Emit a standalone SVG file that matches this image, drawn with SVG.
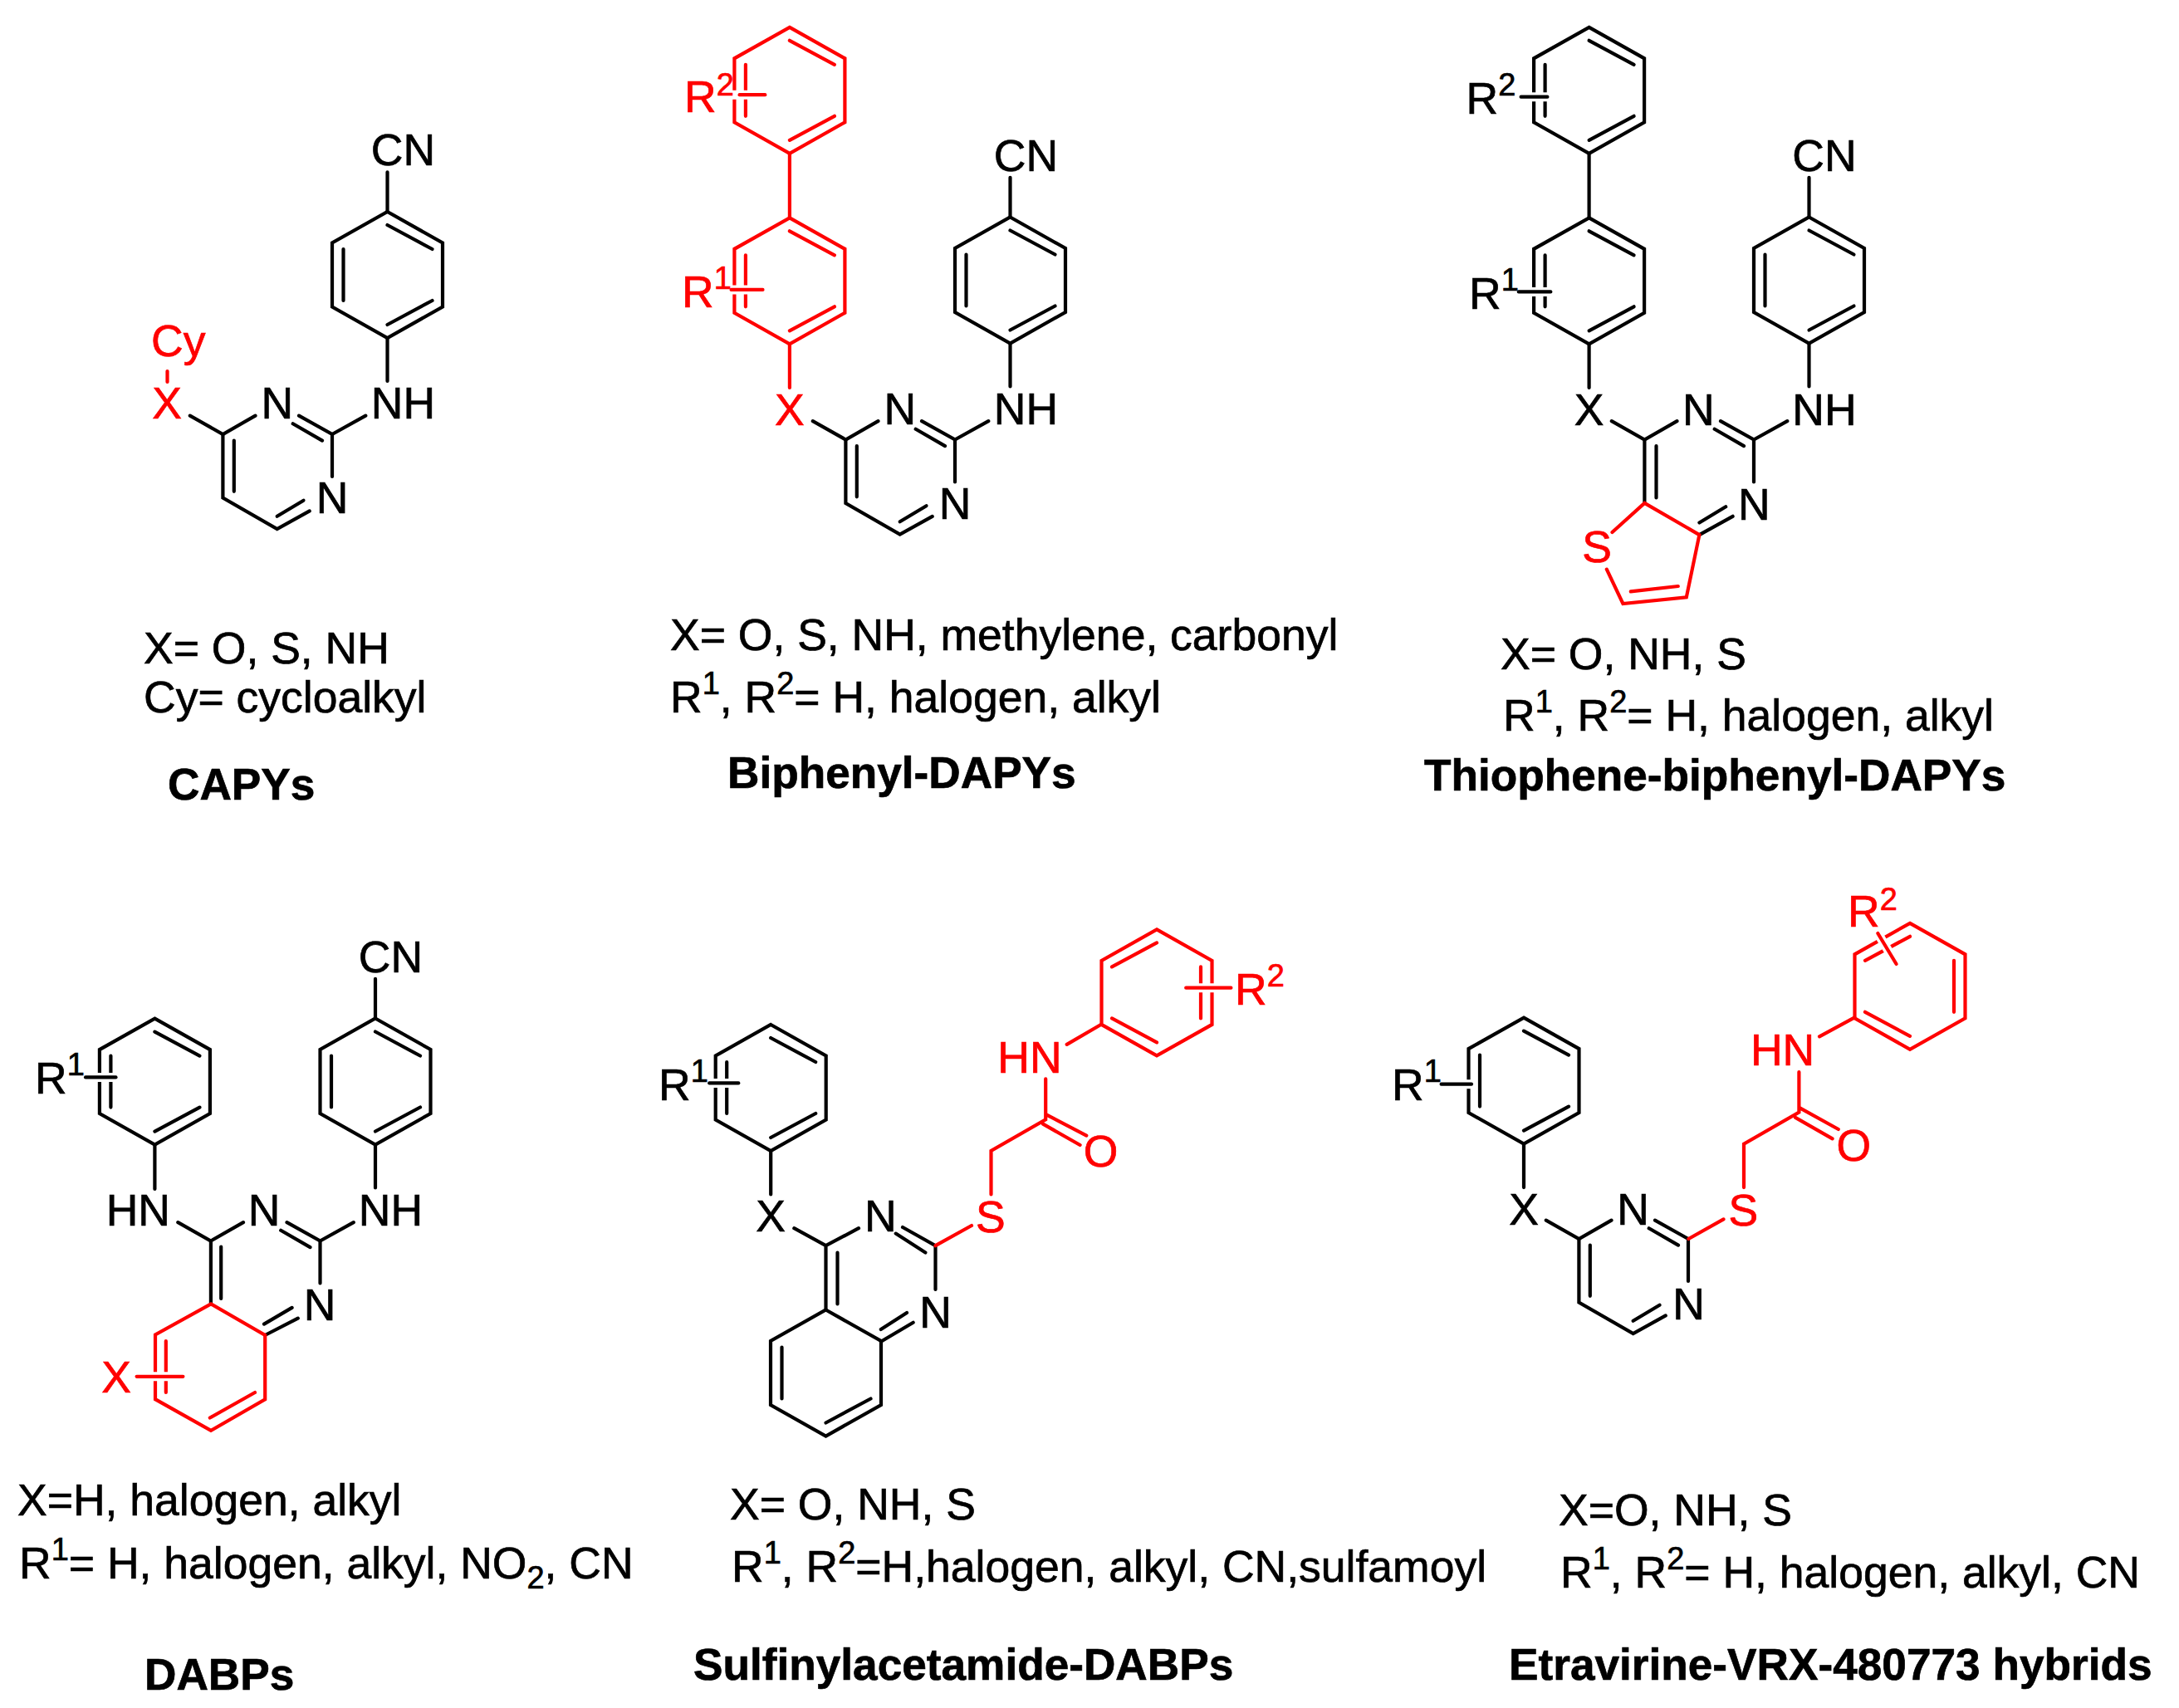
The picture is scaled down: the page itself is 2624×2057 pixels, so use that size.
<svg xmlns="http://www.w3.org/2000/svg" xmlns:xlink="http://www.w3.org/1999/xlink" width="2624" height="2057" viewBox="0 0 2624 2057">
<style>
text{font-family:"Liberation Sans",Arial,sans-serif;font-size:53.500px;fill:#000;stroke:#000;stroke-width:.7}
text.r{fill:#f00;stroke:#f00}
.c{text-anchor:middle}
text.b{font-weight:bold;font-size:53.200px}
.s{font-size:38px}
path,line{fill:none;stroke-width:4.200;stroke-linecap:round;stroke-linejoin:miter}
.k{stroke:#000}
.red{stroke:#f00}
line.h{stroke:#fff;stroke-width:11;stroke-linecap:butt}
</style>
<defs>
<path id="ringA" d="M0,-76L66.500,-38.500V38.500L0,76L-66.500,38.500V-38.500ZM0,-60L54,-31M0,60L54,31M-53,-31V31"/>
<path id="ringB" d="M0,-76L66.500,-38.500V38.500L0,76L-66.500,38.500V-38.500ZM0,60L54,31M-53,-31V31"/>
<path id="ringC" d="M0,-76L66.500,-38.500V38.500L0,76L-66.500,38.500V-38.500ZM0,-60L-54,-31M0,60L-54,31M53,-31V31"/>
<path id="pyrTop" d="M228.800,500.600L268.400,523L307.500,500.600M360,500.600L400,523V574M352.700,510.200L388,530.600"/>
<path id="pyrBot" d="M268.400,523V599.500L333.700,637.100L372.800,615.400M281.800,530.600V591.800M333.700,621.800L365.500,602.700"/>
<path id="anil" d="M400,523L440.300,500.600M466.500,407V459M466.500,255V207.300"/>
</defs>
<rect width="2624" height="2057" fill="#fff"/>

<g id="capys">
<g class="k">
<use href="#ringA" x="466.500" y="331"/>
<use href="#anil"/><use href="#pyrTop"/><use href="#pyrBot"/>
</g>
<line class="red" x1="201.500" y1="447" x2="201.500" y2="460"/>
<text class="c" x="485.500" y="199">CN</text>
<text class="c" x="485.500" y="504">NH</text>
<text class="c" x="333.700" y="504">N</text>
<text class="c" x="400" y="618">N</text>
<text class="c r" x="201" y="504">X</text>
<text class="r" x="182" y="429">Cy</text>
<text x="173" y="799">X= O, S, NH</text>
<text x="173" y="858">Cy= cycloalkyl</text>
<text class="b" x="202" y="963">CAPYs</text>
</g>

<g id="biphenyl-dapys">
<g class="k" transform="translate(750 6.500)">
<use href="#ringA" x="466.500" y="331"/>
<use href="#anil"/><use href="#pyrTop"/><use href="#pyrBot"/>
</g>
<g class="red">
<use href="#ringA" x="950.900" y="108.800"/>
<use href="#ringA" x="950.900" y="338.300"/>
<line x1="950.900" y1="185" x2="950.900" y2="262"/>
<line x1="950.900" y1="414.500" x2="950.900" y2="467"/>
<line class="h" x1="876" y1="114.200" x2="921.300" y2="114.200"/>
<line x1="890.600" y1="114.200" x2="921.300" y2="114.200"/>
<line class="h" x1="880.600" y1="348.900" x2="918.500" y2="348.900"/>
<line x1="880.600" y1="348.900" x2="918.500" y2="348.900"/>
</g>
<text class="r" x="824" y="135">R<tspan class="s" dy="-20">2</tspan></text>
<text class="r" x="821" y="370">R<tspan class="s" dy="-22">1</tspan></text>
<text class="c r" x="950.900" y="512">X</text>
<text class="c" x="1235.500" y="206">CN</text>
<text class="c" x="1235.500" y="510.500">NH</text>
<text class="c" x="1083.700" y="510.500">N</text>
<text class="c" x="1150" y="625">N</text>
<text x="807" y="783">X= O, S, NH, methylene, carbonyl</text>
<text x="807" y="858">R<tspan class="s" dy="-22">1</tspan><tspan dy="22">, R</tspan><tspan class="s" dy="-22">2</tspan><tspan dy="22">= H, halogen, alkyl</tspan></text>
<text class="b" x="876" y="949">Biphenyl-DAPYs</text>
</g>

<g id="thiophene-biphenyl-dapys">
<g class="k" transform="translate(1712 6.500)">
<use href="#ringA" x="466.500" y="331"/>
<use href="#anil"/><use href="#pyrTop"/>
</g>
<g class="k">
<use href="#ringA" x="1913.600" y="108.800"/>
<use href="#ringA" x="1913.600" y="338.300"/>
<path d="M1913.600,185V262M1913.600,414.500V467M1980.400,529.500V605.900M1994.500,537V599.500M2046.400,644.100L2086.600,621.800M2046.400,629.500L2078.200,610.300"/>
<line class="h" x1="1831.600" y1="116.700" x2="1863.400" y2="116.700"/>
<line x1="1831.600" y1="116.700" x2="1863.400" y2="116.700"/>
<line class="h" x1="1828.800" y1="351.400" x2="1867.300" y2="351.400"/>
<line x1="1828.800" y1="351.400" x2="1867.300" y2="351.400"/>
</g>
<path class="red" d="M1941.500,641L1980.400,605.900L2046.400,644.100L2030.800,719.400L1954.400,727L1934.800,685.600M1963.800,712.400L2020.800,706"/>
<text x="1765.500" y="136.500">R<tspan class="s" dy="-22">2</tspan></text>
<text x="1769" y="372">R<tspan class="s" dy="-22">1</tspan></text>
<text class="c" x="1913.600" y="512">X</text>
<text class="c" x="2045.300" y="512">N</text>
<text class="c" x="2197" y="512">NH</text>
<text class="c" x="2112.300" y="626">N</text>
<text class="c" x="2197" y="206">CN</text>
<text class="c r" x="1923" y="677">S</text>
<text x="1807" y="805.500">X= O, NH, S</text>
<text x="1810" y="880">R<tspan class="s" dy="-22">1</tspan><tspan dy="22">, R</tspan><tspan class="s" dy="-22">2</tspan><tspan dy="22">= H, halogen, alkyl</tspan></text>
<text class="b" x="1715" y="951.500">Thiophene-biphenyl-DAPYs</text>
</g>

<g id="dabps">
<g class="k" transform="translate(-14.500 971.500)">
<use href="#ringA" x="466.500" y="331"/>
<use href="#anil"/><use href="#pyrTop"/>
</g>
<g class="k">
<use href="#ringA" x="186.400" y="1302.600"/>
<path d="M186.400,1379V1432M253.900,1494.500V1570.400M266.200,1501.500V1564M319.200,1608L358.800,1587.600M318,1594.600L351.600,1574.900"/>
<line class="h" x1="103" y1="1297.400" x2="139.500" y2="1297.400"/>
<line x1="103" y1="1297.400" x2="139.500" y2="1297.400"/>
</g>
<g class="red">
<path d="M254,1570.400L319.200,1608V1685.200L254,1722.800L187,1685.200V1607.500ZM199.800,1615V1677M252.800,1707.500L307,1677"/>
<line class="h" x1="164.600" y1="1657.800" x2="220.400" y2="1657.800"/>
<line x1="164.600" y1="1657.800" x2="220.400" y2="1657.800"/>
</g>
<text x="42" y="1316.600">R<tspan class="s" dy="-22">1</tspan></text>
<text class="c" x="166.300" y="1476">HN</text>
<text class="c" x="318" y="1476">N</text>
<text class="c" x="470.400" y="1476">NH</text>
<text class="c" x="385" y="1589.500">N</text>
<text class="c" x="470.400" y="1170.500">CN</text>
<text class="c r" x="140" y="1677">X</text>
<text x="21" y="1825">X=H, halogen, alkyl</text>
<text x="23" y="1900.700">R<tspan class="s" dy="-22">1</tspan><tspan dy="22">= H, halogen, alkyl, NO</tspan><tspan class="s" dy="12">2</tspan><tspan dy="-12">, CN</tspan></text>
<text class="b" x="174" y="2034.700">DABPs</text>
</g>

<g id="sulfinylacetamide-dabps">
<g class="k">
<use href="#ringA" x="928.200" y="1310"/>
<use href="#ringB" x="994.500" y="1653.500"/>
<path d="M928.200,1386V1438.400M956.300,1479.200L994.500,1500.200L1034,1479.200M1087,1478L1126.500,1500.200V1553M1078.700,1485.600L1114.400,1508.500M994.500,1500.200V1577.400M1008.500,1508.500V1570.400M1060.800,1615.700L1099.700,1592.700M1060.800,1601L1092,1581"/>
<line class="h" x1="854.200" y1="1304.400" x2="889.300" y2="1304.400"/>
<line x1="854.200" y1="1304.400" x2="889.300" y2="1304.400"/>
</g>
<g class="red">
<use href="#ringC" x="1393" y="1195.400"/>
<path d="M1126.500,1500.200L1170,1476M1193.500,1438.400V1386L1259.200,1348.400V1299.300M1260.500,1342.700L1308.300,1367.600M1256,1353.600L1300.600,1379M1284.700,1257.900L1326.100,1233.700"/>
<line class="h" x1="1428.200" y1="1189.700" x2="1470" y2="1189.700"/>
<line x1="1428.200" y1="1189.700" x2="1482.400" y2="1189.700"/>
</g>
<text x="793" y="1325">R<tspan class="s" dy="-22">1</tspan></text>
<text class="c" x="928.200" y="1483">X</text>
<text class="c" x="1060.200" y="1483">N</text>
<text class="c" x="1126.500" y="1599">N</text>
<text class="c r" x="1192.900" y="1484">S</text>
<text class="c r" x="1325.500" y="1405">O</text>
<text class="c r" x="1240" y="1291.700">HN</text>
<text class="r" x="1487" y="1210">R<tspan class="s" dy="-22">2</tspan></text>
<text x="879" y="1830">X= O, NH, S</text>
<text x="881" y="1905">R<tspan class="s" dy="-22">1</tspan><tspan dy="22">, R</tspan><tspan class="s" dy="-22">2</tspan><tspan dy="22">=H,halogen, alkyl, CN,sulfamoyl</tspan></text>
<text class="b" x="835" y="2023">Sulfinylacetamide-DABPs</text>
</g>

<g id="etravirine-vrx-480773-hybrids">
<g class="k" transform="translate(1633 969)">
<use href="#pyrTop"/><use href="#pyrBot"/>
</g>
<g class="k">
<use href="#ringA" x="1835" y="1301.600"/>
<path d="M1835,1377.800V1430.100"/>
<line class="h" x1="1760" y1="1305.700" x2="1772" y2="1305.700"/>
<line x1="1735.600" y1="1305.700" x2="1772" y2="1305.700"/>
</g>
<g class="red">
<use href="#ringC" x="2300" y="1187.800"/>
<path d="M2033.400,1492L2075.500,1468.400M2100,1430.100V1377.800L2166.400,1339.500V1291M2167.500,1334.400L2213.800,1360M2162,1345.900L2206.600,1371.400M2191,1248.300L2233.400,1225.400"/>
<line class="h" x1="2261.300" y1="1124" x2="2283.600" y2="1161"/>
<line x1="2261.300" y1="1124" x2="2283.600" y2="1161"/>
</g>
<text x="1676" y="1325">R<tspan class="s" dy="-22">1</tspan></text>
<text class="c" x="1835" y="1474.700">X</text>
<text class="c" x="1966.600" y="1474.700">N</text>
<text class="c" x="2033.600" y="1589">N</text>
<text class="c r" x="2099.400" y="1475.500">S</text>
<text class="c r" x="2232.300" y="1398">O</text>
<text class="c r" x="2146.600" y="1283.400">HN</text>
<text class="r" x="2225" y="1115.700">R<tspan class="s" dy="-20">2</tspan></text>
<text x="1877" y="1837">X=O, NH, S</text>
<text x="1879" y="1911.600">R<tspan class="s" dy="-22">1</tspan><tspan dy="22">, R</tspan><tspan class="s" dy="-22">2</tspan><tspan dy="22">= H, halogen, alkyl, CN</tspan></text>
<text class="b" x="1817" y="2023">Etravirine-VRX-480773 hybrids</text>
</g>
</svg>
